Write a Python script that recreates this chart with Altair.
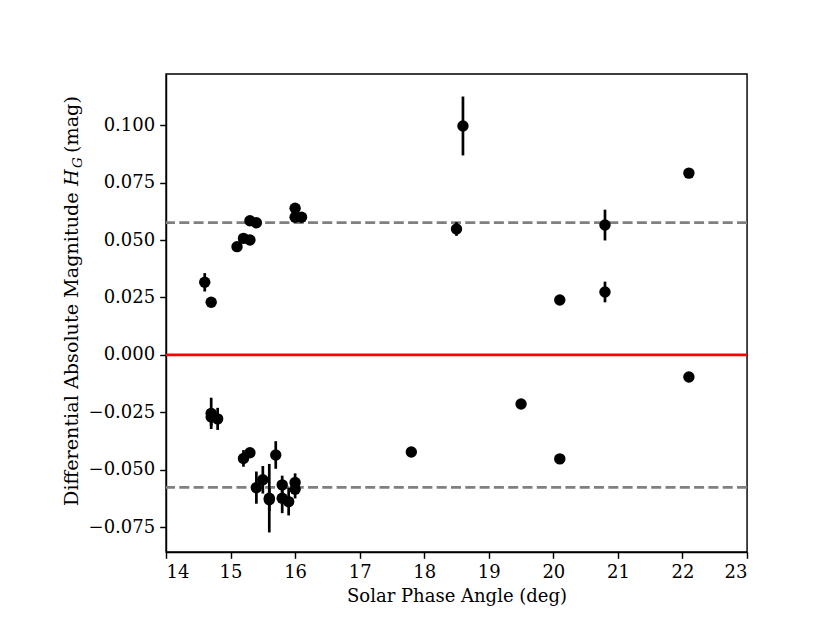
import altair as alt
import pandas as pd

# Data
phase = [14.6, 14.7, 15.1, 15.2, 15.3, 15.3, 15.4, 16.0, 16.0, 16.1, 18.5, 18.6, 20.1, 20.8, 20.8, 22.1,
         14.7, 14.7, 14.8, 15.2, 15.3, 15.4, 15.5, 15.6, 15.6, 15.7, 15.8, 15.8, 15.9, 16.0, 16.0,
         17.8, 19.5, 20.1, 22.1]
dmag = [0.0316, 0.0229, 0.0471, 0.0507, 0.0500, 0.0584, 0.0575, 0.0638, 0.0599, 0.0599, 0.0548, 0.0996,
        0.0239, 0.0565, 0.0274, 0.0791,
        -0.0254, -0.0270, -0.0278, -0.0450, -0.0425, -0.0577, -0.0543, -0.0623, -0.0630, -0.0435,
        -0.0565, -0.0623, -0.0638, -0.0555, -0.0584,
        -0.0422, -0.0213, -0.0452, -0.0096]
derr = [0.004, 0.002, 0.001, 0.001, 0.001, 0.001, 0.001, 0.001, 0.001, 0.001, 0.003, 0.0128,
        0.002, 0.0067, 0.0045, 0.001,
        0.0068, 0.004, 0.0048, 0.0036, 0.001, 0.007, 0.006, 0.0149, 0.005, 0.006,
        0.004, 0.0065, 0.006, 0.004, 0.004,
        0.001, 0.001, 0.001, 0.001]
hlines = [0.0576, -0.0576]
x_ticks = [14, 15, 16, 17, 18, 19, 20, 21, 22, 23]
y_ticks = [-0.075, -0.050, -0.025, 0.000, 0.025, 0.050, 0.075, 0.100]
ytitle_parts = ["Differential Absolute Magnitude", "H", "G", "(mag)"]

df = pd.DataFrame({"phase": phase, "dmag": dmag, "err": derr})
FONT = "DejaVu Serif"

xscale = alt.Scale(domain=[14, 23], nice=False, zero=False)
yscale = alt.Scale(domain=[-0.0857, 0.1222], nice=False, zero=False)

xenc = alt.X("phase:Q", scale=xscale,
             axis=alt.Axis(values=x_ticks, format="d", title="Solar Phase Angle (deg)"))
yenc = alt.Y("dmag:Q", scale=yscale,
             axis=alt.Axis(values=y_ticks, format=".3f", title=None))

base = alt.Chart(df)

dashes = alt.Chart(pd.DataFrame({"h": hlines})).mark_rule(
    color="#808080", strokeWidth=2.7, strokeDash=[10, 4.3]
).encode(y=alt.Y("h:Q", scale=yscale))

zero = alt.Chart(pd.DataFrame({"h": [0.0]})).mark_rule(
    color="red", strokeWidth=2.7
).encode(y=alt.Y("h:Q", scale=yscale))

bars = base.mark_rule(color="black", strokeWidth=2.7).transform_calculate(
    lo="datum.dmag - datum.err", hi="datum.dmag + datum.err"
).encode(x=xenc, y=alt.Y("lo:Q", scale=yscale), y2="hi:Q")

pts = base.mark_circle(color="black", opacity=1, size=130).encode(x=xenc, y=yenc)


def piece(text, size, italic, x, y):
    kw = dict(angle=270, align="left", baseline="alphabetic", font=FONT,
              fontSize=size, color="black")
    if italic:
        kw["fontStyle"] = "italic"
    return alt.Chart(pd.DataFrame({"t": [text]})).mark_text(**kw).encode(
        text="t:N", x=alt.value(x), y=alt.value(y))


t1 = piece(ytitle_parts[0], 19.2, False, -88, 432)
t2 = piece(ytitle_parts[1], 19.2, True, -88, 112)
t3 = piece(ytitle_parts[2], 13.5, True, -84, 94)
t4 = piece(ytitle_parts[3], 19.2, False, -88, 79)

chart = alt.layer(dashes, zero, bars, pts, t1, t2, t3, t4).properties(
    width=581, height=478,
    autosize=alt.AutoSizeParams(type="none"),
    padding={"left": 158, "top": 66, "right": 75, "bottom": 70},
).configure_view(
    stroke="black", strokeWidth=1.44
).configure_axis(
    grid=False, domainColor="black", domainWidth=1.44, tickColor="black", tickWidth=1.44,
    tickSize=6.3, labelFont=FONT, labelFontSize=18, labelColor="black", labelPadding=5,
    titleFont=FONT, titleFontSize=18, titleFontWeight="normal", titleColor="black",
).configure_axisX(titlePadding=6)

chart.save("out.html", embed_options={"renderer": "svg", "actions": False})
